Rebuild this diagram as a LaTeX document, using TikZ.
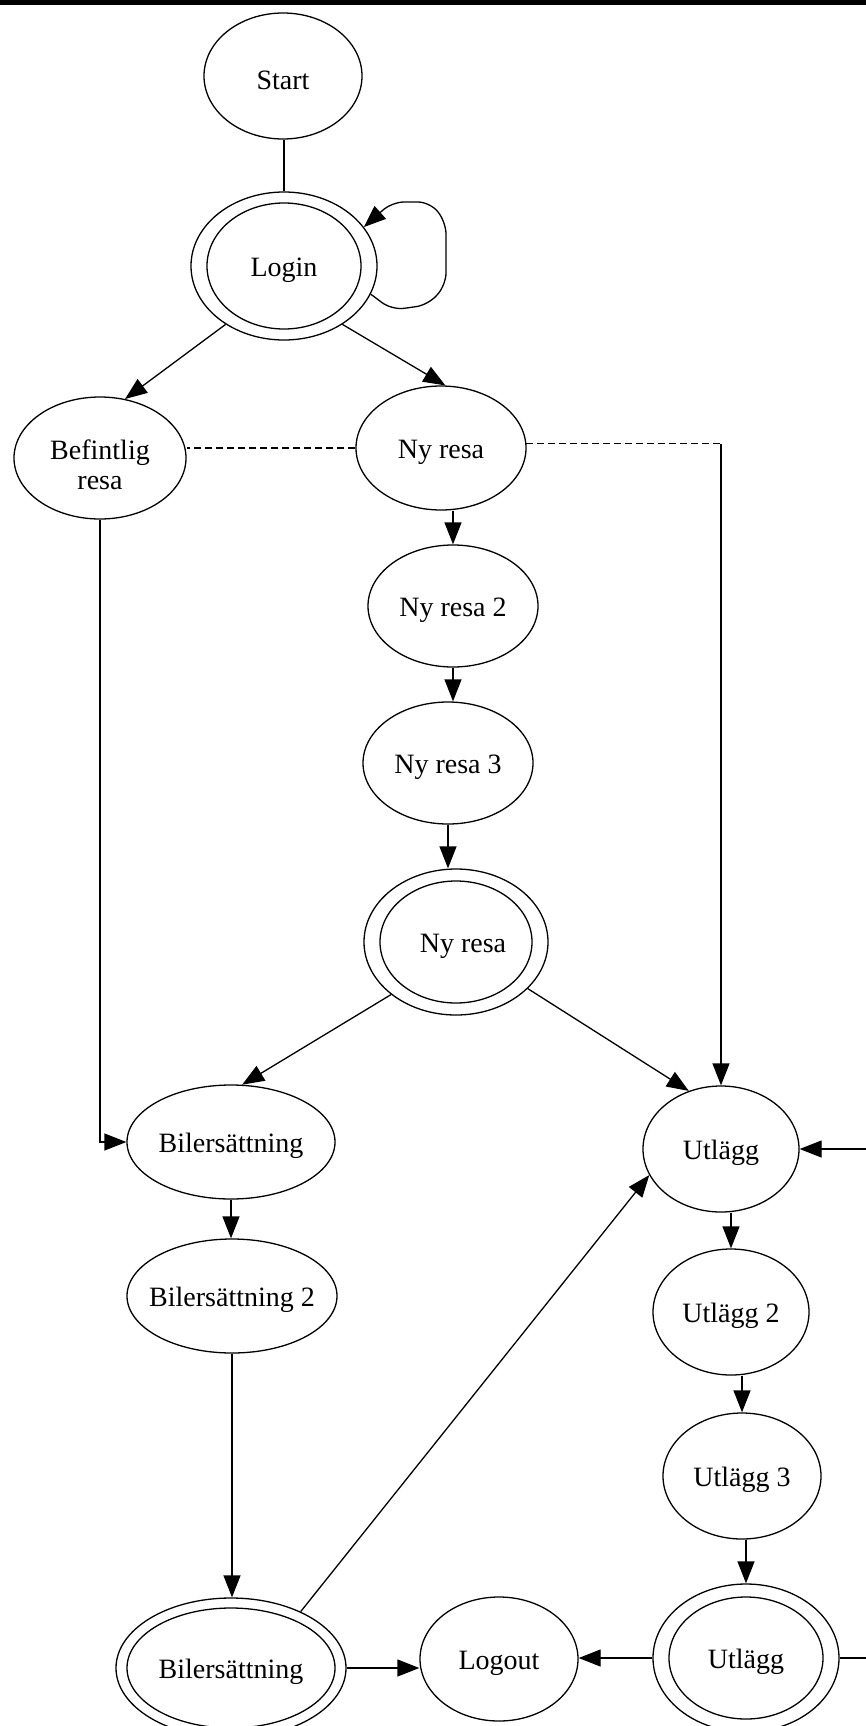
\documentclass[tikz,border=0pt]{standalone}
\usepackage{fontspec}
\setmainfont{Liberation Serif}
\usetikzlibrary{shapes.geometric,arrows.meta,calc}
\begin{document}
\begin{tikzpicture}[x=1pt,y=-1pt,
  every label/.style={font=\fontsize{28}{30}\selectfont, align=center, inner sep=0pt, yshift=-4pt},
  st/.style={ellipse, draw, line width=1.3pt, inner sep=0pt},
  ln/.style={line width=1.3pt},
  arr/.style={line width=1.3pt, -{Triangle[length=22pt,width=17pt]}},
  dsh/.style={line width=1.3pt, dash pattern=on 7pt off 4pt},
]
\useasboundingbox (0,0) rectangle (866,1726);
\clip (0,0) rectangle (866,1726);
\fill[white] (0,0) rectangle (866,1726);
\fill[black] (0,0) rectangle (866,5);

% states
\node[st, minimum width=158, minimum height=126, label=center:Start] (start) at (283,76) {};
\node[st, minimum width=186, minimum height=148, label=center:Login] (login) at (284,266) {};
\draw[ln] (login.center) ellipse [x radius=77, y radius=63];

\node[st, minimum width=172, minimum height=122, label={[yshift=-3pt]center:Befintlig\\resa}] (bef) at (100,458) {};
\node[st, minimum width=170, minimum height=124, label=center:Ny resa] (nyresa) at (441,448) {};
\node[st, minimum width=170, minimum height=122, label=center:Ny resa 2] (nyresa2) at (453,606) {};
\node[st, minimum width=170, minimum height=122, label=center:Ny resa 3] (nyresa3) at (448,763) {};
\node[st, minimum width=184, minimum height=146, label={[xshift=7pt]center:Ny resa}] (nrf) at (456,942) {};
\draw[ln] (nrf.center) ellipse [x radius=76, y radius=61];

\node[st, minimum width=208, minimum height=114, label=center:Bilersättning] (bil) at (231,1142) {};
\node[st, minimum width=210, minimum height=114, label=center:Bilersättning 2] (bil2) at (232,1296) {};
\node[st, minimum width=230, minimum height=140, label=center:Bilersättning] (bilf) at (231,1668) {};
\draw[ln] (bilf.center) ellipse [x radius=104, y radius=60];

\node[st, minimum width=158, minimum height=124, label=center:Logout] (logout) at (499,1659) {};

\node[st, minimum width=156, minimum height=126, label=center:Utlägg] (utl) at (721,1149) {};
\node[st, minimum width=156, minimum height=126, label=center:Utlägg 2] (utl2) at (731,1312) {};
\node[st, minimum width=158, minimum height=126, label=center:Utlägg 3] (utl3) at (742,1476) {};
\node[st, minimum width=186, minimum height=148, label=center:Utlägg] (utlf) at (746,1658) {};
\draw[ln] (utlf.center) ellipse [x radius=77, y radius=61];

% transitions
\draw[ln] (start.south -| login.north) -- (login.north);
\draw[arr, rounded corners=12pt] (login.-18) -- (392,310) -- (428,305) -- (446,285)
  -- (446,222) -- (430,202) -- (392,202) -- (login.26);
\draw[arr] (login.225) -- (bef.67);
\draw[arr] (login.315) -- (nyresa.86);

\draw[dsh] (nyresa.west) -- (nyresa.west -| bef.east);
\coordinate (c1) at (nyresa.3 -| utl.north);
\draw[dsh] (nyresa.3) -- (c1);
\draw[arr] (c1) -- (utl.north);

\draw[arr] (nyresa.south -| nyresa2.north) -- (nyresa2.north);
\draw[arr] (nyresa2.south) -- (nyresa2.south |- nyresa3.north);
\draw[arr] (nyresa3.south) -- (nyresa3.south |- nrf.north);
\draw[arr] (nrf.219) -- (bil.79);
\draw[arr] (nrf.-33) -- (utl.119);

\draw[arr] (bef.south) |- (bil.west);
\draw[arr] (bil.south) -- (bil.south |- bil2.north);
\draw[arr] (bil2.south) -- (bil2.south |- bilf.north);
\draw[arr] (bilf.39) -- (utl.200);
\draw[arr] (bilf.east) -- (bilf.east -| logout.west);

\draw[arr] (utl2.north |- utl.south) -- (utl2.north);
\draw[arr] (utl3.north |- utl2.south) -- (utl3.north);
\draw[arr] (utlf.north |- utl3.south) -- (utlf.north);
\draw[arr] (utlf.west) -- (utlf.west -| logout.east);

\coordinate (e1) at (880,1658);
\coordinate (e2) at (880,1146);
\draw[ln] (utlf.east) -- (utlf.east -| e1);
\draw[arr] (utl.east -| e2) -- (utl.east);
\end{tikzpicture}
\end{document}
